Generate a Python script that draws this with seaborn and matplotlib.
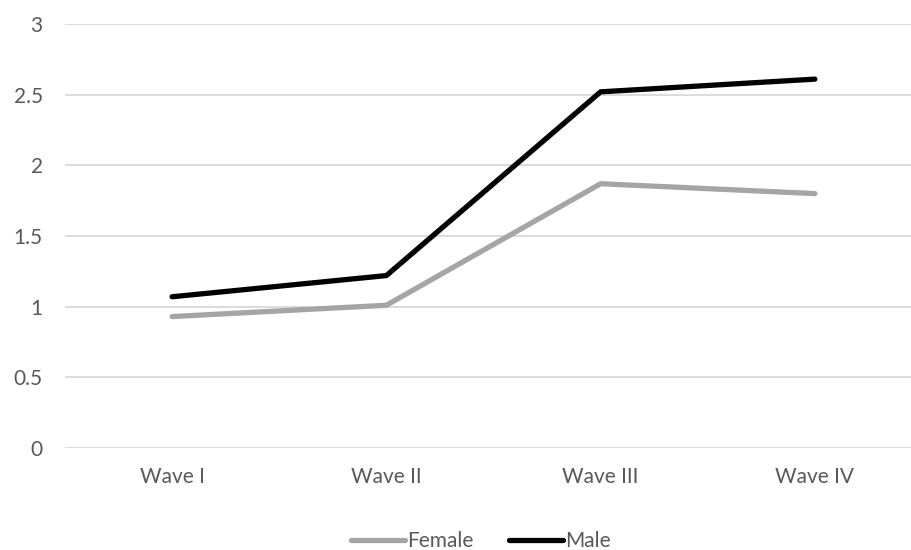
import matplotlib
matplotlib.use("Agg")
import matplotlib.pyplot as plt
import seaborn as sns
import pandas as pd

# chart values
waves = ["Wave I", "Wave II", "Wave III", "Wave IV"]
female = [0.93, 1.01, 1.87, 1.80]
male = [1.07, 1.22, 2.52, 2.61]
y_ticks = [0, 0.5, 1, 1.5, 2, 2.5, 3]
y_labels = ["0", "0.5", "1", "1.5", "2", "2.5", "3"]

df = pd.DataFrame({
    "wave": waves * 2,
    "value": female + male,
    "sex": ["Female"] * len(waves) + ["Male"] * len(waves),
})

sns.set_style("white")
plt.rcParams["font.family"] = ["Lato", "DejaVu Sans"]

fig = plt.figure(figsize=(9.11, 5.5), dpi=100)
ax = fig.add_axes([65 / 911, 102 / 550, 857 / 911, 424 / 550])

sns.lineplot(
    data=df, x="wave", y="value", hue="sex", sort=False,
    palette={"Female": "#A5A5A5", "Male": "#000000"},
    linewidth=3.8, ax=ax, legend=True,
)
for line in ax.get_lines():
    line.set_solid_capstyle("round")
    line.set_solid_joinstyle("round")

ax.set_xlim(-0.5, len(waves) - 0.5)
ax.set_ylim(0, 3)
ax.set_yticks(y_ticks)
ax.set_yticklabels(y_labels)
ax.set_xlabel("")
ax.set_ylabel("")
ax.grid(axis="y", color="#D9D9D9", linewidth=1.3)
ax.set_axisbelow(True)
for side in ["top", "right", "left", "bottom"]:
    ax.spines[side].set_visible(False)
ax.tick_params(axis="both", length=0, labelsize=15, labelcolor="#595959")
ax.tick_params(axis="y", pad=16)
ax.tick_params(axis="x", pad=14)

# legend centred under the plot
handles, labels = ax.get_legend_handles_labels()
ax.legend(
    handles, labels, loc="center", bbox_to_anchor=(481 / 911, 9 / 550),
    bbox_transform=fig.transFigure, ncol=2, frameon=False,
    fontsize=15, labelcolor="#595959", handlelength=2.6,
    handletextpad=0.1, columnspacing=1.7,
)

fig.savefig("out.png", dpi=100)
